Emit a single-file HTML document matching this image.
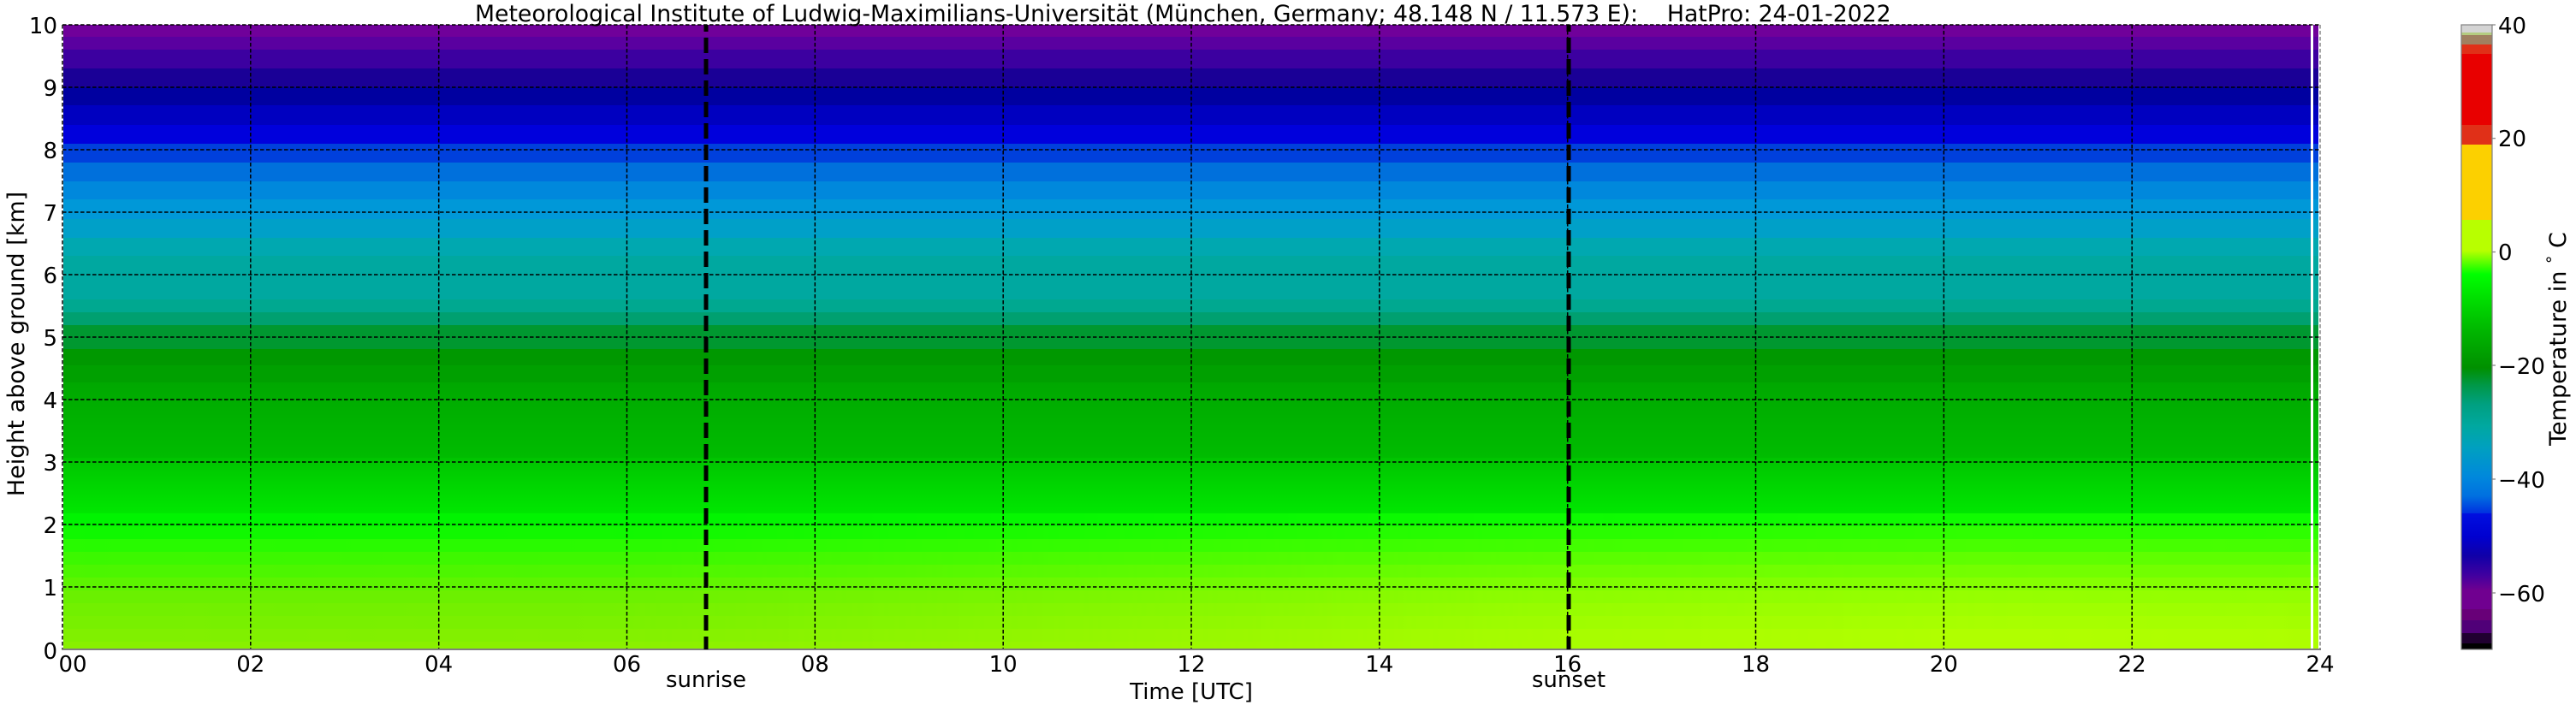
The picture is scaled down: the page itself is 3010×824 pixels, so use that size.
<!DOCTYPE html>
<html><head><meta charset="utf-8"><style>
html,body{margin:0;padding:0;background:#fff;}
svg{display:block;}
text{font-family:"DejaVu Sans","Liberation Sans",sans-serif;fill:#000;}
</style></head><body>
<svg width="3010" height="824" viewBox="0 0 3010 824" xmlns="http://www.w3.org/2000/svg">
<defs>
<linearGradient id="hm" x1="73" y1="0" x2="2709" y2="0" gradientUnits="userSpaceOnUse">
<stop offset="0" stop-color="#000"/>
<stop offset="0.25" stop-color="#111"/>
<stop offset="0.45" stop-color="#666"/>
<stop offset="0.65" stop-color="#ccc"/>
<stop offset="0.85" stop-color="#fff"/>
<stop offset="1" stop-color="#eee"/>
</linearGradient>
<mask id="m" maskUnits="userSpaceOnUse" x="0" y="0" width="3010" height="824">
<rect x="73" y="590" width="2640" height="170" fill="url(#hm)"/>
</mask>
<linearGradient id="g1" x1="0" y1="447" x2="0" y2="535" gradientUnits="userSpaceOnUse">
<stop offset="0" stop-color="#00a800"/><stop offset="1" stop-color="#00bc00"/>
</linearGradient>
<linearGradient id="g2" x1="0" y1="535" x2="0" y2="602" gradientUnits="userSpaceOnUse">
<stop offset="0" stop-color="#00c400"/><stop offset="1" stop-color="#00e800"/>
</linearGradient>
<linearGradient id="cbg" x1="0" y1="293" x2="0" y2="430" gradientUnits="userSpaceOnUse">
<stop offset="0" stop-color="#b8ff00"/>
<stop offset="0.2" stop-color="#00ff00"/>
<stop offset="0.4" stop-color="#00e000"/>
<stop offset="0.7" stop-color="#00b400"/>
<stop offset="1" stop-color="#009000"/>
</linearGradient>
<linearGradient id="cbt" x1="0" y1="430" x2="0" y2="600" gradientUnits="userSpaceOnUse">
<stop offset="0" stop-color="#009000"/>
<stop offset="0.12" stop-color="#009848"/>
<stop offset="0.25" stop-color="#00a080"/>
<stop offset="0.4" stop-color="#00a8a0"/>
<stop offset="0.55" stop-color="#00a0c0"/>
<stop offset="0.75" stop-color="#0088dc"/>
<stop offset="0.88" stop-color="#0070e0"/>
<stop offset="1" stop-color="#0030e0"/>
</linearGradient>
<linearGradient id="cbb" x1="0" y1="600" x2="0" y2="690" gradientUnits="userSpaceOnUse">
<stop offset="0" stop-color="#0010e0"/>
<stop offset="0.3" stop-color="#0000d0"/>
<stop offset="0.55" stop-color="#1000a8"/>
<stop offset="0.8" stop-color="#4000a0"/>
<stop offset="1" stop-color="#700090"/>
</linearGradient>
</defs>

<!-- heatmap bands -->
<g shape-rendering="crispEdges">
<rect x="74" y="29" width="2635" height="14" fill="#70009a"/>
<rect x="74" y="43" width="2635" height="15" fill="#5a00a0"/>
<rect x="74" y="58" width="2635" height="22" fill="#3c00a0"/>
<rect x="74" y="80" width="2635" height="22" fill="#1a0096"/>
<rect x="74" y="102" width="2635" height="21" fill="#0000a0"/>
<rect x="74" y="123" width="2635" height="23" fill="#0000c0"/>
<rect x="74" y="146" width="2635" height="22" fill="#0000dc"/>
<rect x="74" y="168" width="2635" height="22" fill="#0040dc"/>
<rect x="74" y="190" width="2635" height="22" fill="#0070dc"/>
<rect x="74" y="212" width="2635" height="21" fill="#0088dc"/>
<rect x="74" y="233" width="2635" height="23" fill="#0098d8"/>
<rect x="74" y="256" width="2635" height="22" fill="#00a0c8"/>
<rect x="74" y="278" width="2635" height="21" fill="#00a8b0"/>
<rect x="74" y="299" width="2635" height="51" fill="#00a8a0"/>
<rect x="74" y="350" width="2635" height="15" fill="#00a890"/>
<rect x="74" y="365" width="2635" height="15" fill="#00a070"/>
<rect x="74" y="380" width="2635" height="28" fill="#009830"/>
<rect x="74" y="408" width="2635" height="19" fill="#009800"/>
<rect x="74" y="427" width="2635" height="20" fill="#00a000"/>
<rect x="74" y="447" width="2635" height="88" fill="url(#g1)"/>
<rect x="74" y="535" width="2635" height="67" fill="url(#g2)"/>
<!-- lower slices, left colours -->
<rect x="74" y="600" width="2635" height="15" fill="#00f400"/>
<rect x="74" y="615" width="2635" height="15" fill="#10f800"/>
<rect x="74" y="630" width="2635" height="15" fill="#28fa00"/>
<rect x="74" y="645" width="2635" height="15" fill="#3cf800"/>
<rect x="74" y="660" width="2635" height="15" fill="#4cf600"/>
<rect x="74" y="675" width="2635" height="15" fill="#5cf400"/>
<rect x="74" y="690" width="2635" height="15" fill="#6af000"/>
<rect x="74" y="705" width="2635" height="15" fill="#72f000"/>
<rect x="74" y="720" width="2635" height="15" fill="#78f000"/>
<rect x="74" y="735" width="2635" height="15" fill="#80f000"/>
<rect x="74" y="750" width="2635" height="9" fill="#88f000"/>
<!-- lower slices, right colours (masked) -->
<g mask="url(#m)">
<rect x="74" y="600" width="2635" height="15" fill="#10fc00"/>
<rect x="74" y="615" width="2635" height="15" fill="#30fe00"/>
<rect x="74" y="630" width="2635" height="15" fill="#48ff00"/>
<rect x="74" y="645" width="2635" height="15" fill="#60ff00"/>
<rect x="74" y="660" width="2635" height="15" fill="#74ff00"/>
<rect x="74" y="675" width="2635" height="15" fill="#86ff00"/>
<rect x="74" y="690" width="2635" height="15" fill="#96ff00"/>
<rect x="74" y="705" width="2635" height="15" fill="#a0ff00"/>
<rect x="74" y="720" width="2635" height="15" fill="#a8ff00"/>
<rect x="74" y="735" width="2635" height="15" fill="#b0ff00"/>
<rect x="74" y="750" width="2635" height="9" fill="#b0ff00"/>
</g>
<!-- white gaps at right -->
<rect x="2700" y="29" width="3" height="730" fill="#fff"/>
<rect x="2709" y="29" width="2" height="730" fill="#fff"/>
</g>

<!-- grid -->
<g stroke="#000" stroke-width="1.5" stroke-dasharray="4.5 2.5" fill="none">
<line x1="73" y1="29" x2="2711" y2="29"/>
<line x1="73" y1="102" x2="2711" y2="102"/>
<line x1="73" y1="175" x2="2711" y2="175"/>
<line x1="73" y1="248" x2="2711" y2="248"/>
<line x1="73" y1="321" x2="2711" y2="321"/>
<line x1="73" y1="394" x2="2711" y2="394"/>
<line x1="73" y1="467" x2="2711" y2="467"/>
<line x1="73" y1="540" x2="2711" y2="540"/>
<line x1="73" y1="613" x2="2711" y2="613"/>
<line x1="73" y1="686" x2="2711" y2="686"/>
<line x1="73" y1="29" x2="73" y2="759"/>
<line x1="292.8" y1="29" x2="292.8" y2="759"/>
<line x1="512.7" y1="29" x2="512.7" y2="759"/>
<line x1="732.5" y1="29" x2="732.5" y2="759"/>
<line x1="952.3" y1="29" x2="952.3" y2="759"/>
<line x1="1172.2" y1="29" x2="1172.2" y2="759"/>
<line x1="1392" y1="29" x2="1392" y2="759"/>
<line x1="1611.8" y1="29" x2="1611.8" y2="759"/>
<line x1="1831.7" y1="29" x2="1831.7" y2="759"/>
<line x1="2051.5" y1="29" x2="2051.5" y2="759"/>
<line x1="2271.3" y1="29" x2="2271.3" y2="759"/>
<line x1="2491.2" y1="29" x2="2491.2" y2="759"/>
</g>
<line x1="2711" y1="29" x2="2711" y2="759" stroke="#888" stroke-width="1.5" stroke-dasharray="4.5 2.5"/>
<!-- spines -->
<line x1="72" y1="759" x2="2712" y2="759" stroke="#808080" stroke-width="2"/>

<!-- sunrise / sunset -->
<g stroke="#000" stroke-width="5" stroke-dasharray="18 7" stroke-dashoffset="10">
<line x1="825" y1="29" x2="825" y2="759"/>
<line x1="1833" y1="29" x2="1833" y2="759"/>
</g>

<!-- title -->
<text x="555" y="25" font-size="26.7" text-anchor="start" style="white-space:pre">Meteorological Institute of Ludwig-Maximilians-Universität (München, Germany; 48.148 N / 11.573 E):    HatPro: 24-01-2022</text>

<!-- y ticks -->
<g font-size="26" text-anchor="end">
<text x="67" y="39">10</text>
<text x="67" y="112">9</text>
<text x="67" y="185">8</text>
<text x="67" y="258">7</text>
<text x="67" y="331">6</text>
<text x="67" y="404">5</text>
<text x="67" y="477">4</text>
<text x="67" y="550">3</text>
<text x="67" y="623">2</text>
<text x="67" y="696">1</text>
<text x="67" y="770">0</text>
</g>
<!-- x ticks -->
<g font-size="26" text-anchor="middle">
<text x="85" y="785">00</text>
<text x="292.8" y="785">02</text>
<text x="512.7" y="785">04</text>
<text x="732.5" y="785">06</text>
<text x="952.3" y="785">08</text>
<text x="1172.2" y="785">10</text>
<text x="1392" y="785">12</text>
<text x="1611.8" y="785">14</text>
<text x="1831.7" y="785">16</text>
<text x="2051.5" y="785">18</text>
<text x="2271.3" y="785">20</text>
<text x="2491.2" y="785">22</text>
<text x="2711" y="785">24</text>
</g>
<g font-size="26" text-anchor="middle">
<text x="825" y="803">sunrise</text>
<text x="1833" y="803">sunset</text>
<text x="1392" y="817">Time [UTC]</text>
</g>
<text transform="translate(28,402) rotate(-90)" font-size="27" text-anchor="middle">Height above ground [km]</text>

<!-- colorbar -->
<g shape-rendering="crispEdges">
<rect x="2876" y="29" width="36" height="9" fill="#d4d4d4"/>
<rect x="2876" y="38" width="36" height="3" fill="#b4cc80"/>
<rect x="2876" y="41" width="36" height="11" fill="#a08060"/>
<rect x="2876" y="52" width="36" height="11" fill="#e03018"/>
<rect x="2876" y="63" width="36" height="83" fill="#e80000"/>
<rect x="2876" y="146" width="36" height="23" fill="#e03018"/>
<rect x="2876" y="169" width="36" height="88" fill="#fcd000"/>
<rect x="2876" y="257" width="36" height="37" fill="#b8ff00"/>
<rect x="2876" y="293" width="36" height="137" fill="url(#cbg)"/>
<rect x="2876" y="430" width="36" height="170" fill="url(#cbt)"/>
<rect x="2876" y="600" width="36" height="90" fill="url(#cbb)"/>
<rect x="2876" y="690" width="36" height="22" fill="#700090"/>
<rect x="2876" y="712" width="36" height="13" fill="#680078"/>
<rect x="2876" y="725" width="36" height="15" fill="#500078"/>
<rect x="2876" y="740" width="36" height="12" fill="#200030"/>
<rect x="2876" y="752" width="36" height="7" fill="#000"/>
</g>
<rect x="2876" y="29" width="36" height="730" fill="none" stroke="#808080" stroke-width="1.2"/>
<g stroke="#808080" stroke-width="1.2">
<line x1="2912" y1="29" x2="2916" y2="29"/>
<line x1="2912" y1="161.7" x2="2916" y2="161.7"/>
<line x1="2912" y1="294.5" x2="2916" y2="294.5"/>
<line x1="2912" y1="427" x2="2916" y2="427"/>
<line x1="2912" y1="560" x2="2916" y2="560"/>
<line x1="2912" y1="693" x2="2916" y2="693"/>
</g>
<g font-size="26">
<text x="2919" y="39">40</text>
<text x="2919" y="171">20</text>
<text x="2919" y="304">0</text>
<text x="2919" y="437">−20</text>
<text x="2919" y="570">−40</text>
<text x="2919" y="703">−60</text>
</g>
<text transform="translate(2998,396) rotate(-90)" font-size="27" text-anchor="middle" style="white-space:pre">Temperature in <tspan font-size="19" dy="-9">°</tspan><tspan dy="9"> C</tspan></text>
</svg>
</body></html>
